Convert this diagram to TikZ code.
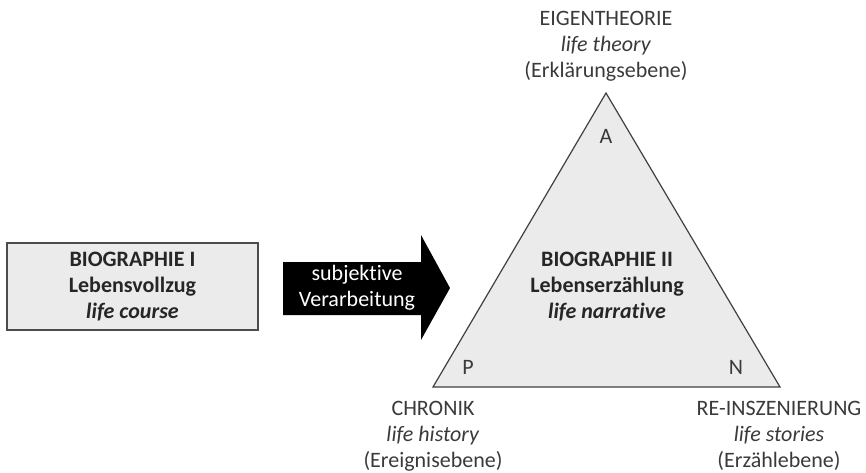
\documentclass[tikz,border=0pt]{standalone}
\usepackage{fontspec}
\setmainfont{Carlito}[Ligatures=NoCommon]
\usetikzlibrary{positioning}
\definecolor{txt}{HTML}{3A3A3A}
\definecolor{grayfill}{HTML}{EBEBEB}

\begin{document}
\begin{tikzpicture}[x=1pt,y=-1pt,
 lbl/.style={align=center,text=txt,inner sep=0pt,font=\fontsize{22}{26}\selectfont},
 bio/.style={align=center,text=black!85,inner sep=0pt,font=\fontsize{22}{26}\selectfont}]
\useasboundingbox (0,0) rectangle (866,472);
\coordinate(a) at (606,93);
\coordinate(p) at (433,387);
\coordinate(n) at (780,387);
\filldraw[fill=grayfill,draw=black!75,line width=1.2pt](a)--(p)--(n)--cycle;
\node[bio,draw=black!70,fill=grayfill,line width=1.4pt,minimum width=251pt,minimum height=87pt](b1) at (132.5,286.5)
 {\textbf{BIOGRAPHIE I}\\\textbf{Lebensvollzug}\\\textbf{\textit{life course}}};
\fill (283,262)--(421,262)--(421,235)--(450,288)--(421,340)--(421,315)--(283,315)--cycle;
\node[bio,text=white](arr) at (357,288) {subjektive\\Verarbeitung};
\node[bio](b2) at (607,287) {\textbf{BIOGRAPHIE II}\\\textbf{Lebenserzählung}\\\textbf{\textit{life narrative}}};
\node[lbl](la) at (606,136) {A};
\node[lbl](lp) at (468,367) {P};
\node[lbl](ln) at (736,367) {N};
\node[lbl](ta) at (606,46) {EIGENTHEORIE\\\textit{life theory}\\(Erklärungsebene)};
\node[lbl](tp) at (433,436) {CHRONIK\\\textit{life history}\\(Ereignisebene)};
\node[lbl](tn) at (779,436) {RE-INSZENIERUNG\\\textit{life stories}\\(Erzählebene)};
\end{tikzpicture}
\end{document}
